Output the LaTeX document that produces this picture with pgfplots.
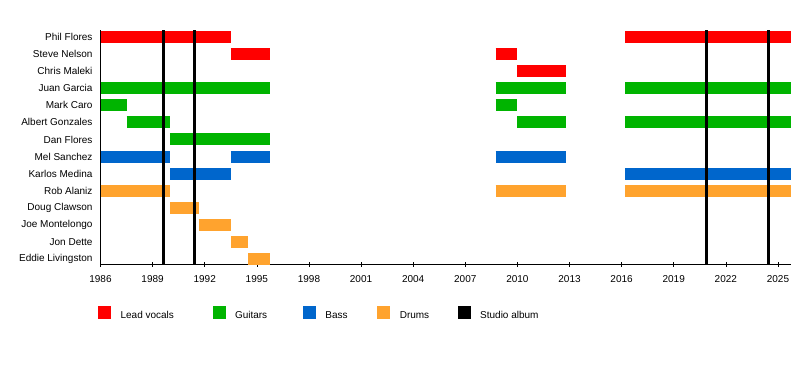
\documentclass[border=0pt]{standalone}
\usepackage{pgfplots}
\pgfplotsset{compat=1.18}
\usepackage{fontspec}
\setmainfont{Liberation Sans}
\definecolor{cvoc}{RGB}{255,0,0}
\definecolor{cgui}{RGB}{0,180,0}
\definecolor{cbas}{RGB}{0,102,204}
\definecolor{cdru}{RGB}{255,163,46}
\begin{document}
\begin{tikzpicture}
\useasboundingbox (0,0) rectangle (800pt,364pt);
\begin{axis}[
  at={(100.5pt,100pt)}, anchor=south west,
  scale only axis, width=690.5pt, height=234pt,
  xmin=1986, xmax=2025.75,
  ymin=-0.41, ymax=13.29, y dir=reverse,
  axis x line*=bottom, axis y line*=left,
  axis line style={line width=0.8pt},
  xtick={1986,1989,...,2025},
  xticklabels={1986,1989,1992,1995,1998,2001,2004,2007,2010,2013,2016,2019,2022,2025},
  minor x tick num=2,
  tick align=center,
  major tick length=5pt, minor tick length=4pt,
  x tick style={line width=0.6pt, black},
  ytick={0,...,13},
  yticklabels={Phil Flores,Steve Nelson,Chris Maleki,Juan Garcia,Mark Caro,Albert Gonzales,Dan Flores,Mel Sanchez,Karlos Medina,Rob Alaniz,Doug Clawson,Joe Montelongo,Jon Dette,Eddie Livingston},
  y tick style={draw=none},
  tick label style={font=\fontsize{10}{12}\selectfont},
  yticklabel style={xshift=-2pt},
  xticklabel style={yshift=-5pt},
  unbounded coords=jump,
  legend columns=5,
  legend style={at={(0,0)}, anchor=west, xshift=-2.5pt, yshift=-49pt,
    draw=none, fill=none, inner sep=0pt,
    font=\fontsize{10}{12}\selectfont,
    /tikz/every odd column/.append style={column sep=10pt},
    /tikz/every even column/.append style={column sep=0pt},
    nodes={inner sep=0pt}},
  legend cell align=left,
]
% Lead vocals
\addplot[cvoc, line width=12pt, forget plot] coordinates {
 (1986,0) (1993.5,0) (0,nan)
 (2016.2,0) (2025.75,0) (0,nan)
 (1993.5,1) (1995.75,1) (0,nan)
 (2008.75,1) (2010,1) (0,nan)
 (2010,2) (2012.8,2)
};
% Guitars
\addplot[cgui, line width=12pt, forget plot] coordinates {
 (1986,3) (1995.75,3) (0,nan)
 (2008.75,3) (2012.8,3) (0,nan)
 (2016.2,3) (2025.75,3) (0,nan)
 (1986,4) (1987.5,4) (0,nan)
 (2008.75,4) (2010,4) (0,nan)
 (1987.5,5) (1990,5) (0,nan)
 (2010,5) (2012.8,5) (0,nan)
 (2016.2,5) (2025.75,5) (0,nan)
 (1990,6) (1995.75,6)
};
% Bass
\addplot[cbas, line width=12pt, forget plot] coordinates {
 (1986,7) (1990,7) (0,nan)
 (1993.5,7) (1995.75,7) (0,nan)
 (2008.75,7) (2012.8,7) (0,nan)
 (1990,8) (1993.5,8) (0,nan)
 (2016.2,8) (2025.75,8)
};
% Drums
\addplot[cdru, line width=12pt, forget plot] coordinates {
 (1986,9) (1990,9) (0,nan)
 (2008.75,9) (2012.8,9) (0,nan)
 (2016.2,9) (2025.75,9) (0,nan)
 (1990,10) (1991.65,10) (0,nan)
 (1991.65,11) (1993.5,11) (0,nan)
 (1993.5,12) (1994.5,12) (0,nan)
 (1994.5,13) (1995.75,13)
};
% Studio albums
\addplot[black, line width=3pt, forget plot] coordinates {
 (1989.6,-0.41) (1989.6,13.29) (0,nan)
 (1991.4,-0.41) (1991.4,13.29) (0,nan)
 (2020.9,-0.41) (2020.9,13.29) (0,nan)
 (2024.45,-0.41) (2024.45,13.29)
};
\addlegendimage{legend image code/.code={\fill[cvoc] (0pt,-2.5pt) rectangle (12pt,9.5pt);}}
\addlegendentry{\makebox[92pt][l]{Lead vocals}}
\addlegendimage{legend image code/.code={\fill[cgui] (0pt,-2.5pt) rectangle (12pt,9.5pt);}}
\addlegendentry{\makebox[68pt][l]{Guitars}}
\addlegendimage{legend image code/.code={\fill[cbas] (0pt,-2.5pt) rectangle (12pt,9.5pt);}}
\addlegendentry{\makebox[52pt][l]{Bass}}
\addlegendimage{legend image code/.code={\fill[cdru] (0pt,-2.5pt) rectangle (12pt,9.5pt);}}
\addlegendentry{\makebox[58pt][l]{Drums}}
\addlegendimage{legend image code/.code={\fill[black] (0pt,-2.5pt) rectangle (12pt,9.5pt);}}
\addlegendentry{Studio album}
\end{axis}
\end{tikzpicture}
\end{document}
